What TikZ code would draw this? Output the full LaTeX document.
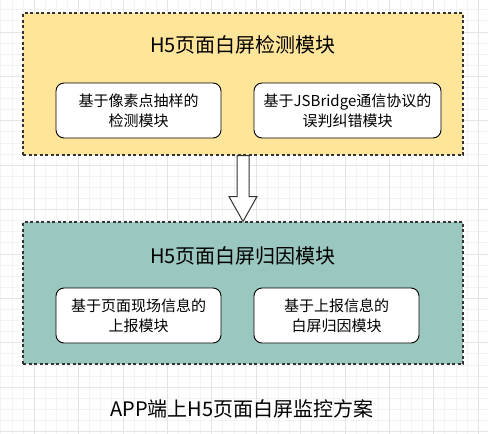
\documentclass[tikz,border=0pt]{standalone}
\usepackage{fontspec}
\setmainfont{Noto Sans CJK SC}
\usetikzlibrary{calc}
\definecolor{yfill}{RGB}{255,229,153}
\definecolor{tfill}{RGB}{154,199,191}
\definecolor{gridmaj}{RGB}{228,228,228}
\definecolor{gridmin}{RGB}{243,243,243}
\definecolor{edge}{RGB}{51,51,51}
\tikzset{
  outerbox/.style={draw=edge, line width=1.1pt, dash pattern=on 3pt off 2.5pt, minimum width=440pt, minimum height=142pt, inner sep=0pt},
  innerbox/.style={draw=black, line width=0.9pt, fill=white, rounded corners=8pt, minimum height=55pt, align=center, inner sep=0pt, font=\fontsize{15}{20}\selectfont},
  titletext/.style={font=\fontsize{20}{24}\selectfont, inner sep=0pt},
  blockarrow/.style={draw=edge, line width=1pt, fill=white, line join=miter}
}
\begin{document}
\begin{tikzpicture}[x=1pt,y=-1pt]
\useasboundingbox (0,0) rectangle (488,434);
\fill[white] (0,0) rectangle (488,434);
% grid
\foreach \i in {0,...,44} {
  \draw[gridmin, line width=0.5pt] ({0.7+\i*11.1},0) -- ({0.7+\i*11.1},434);
  \draw[gridmin, line width=0.5pt] (0,{9.6+\i*11.1}) -- (488,{9.6+\i*11.1});
}
\foreach \i in {0,...,11} {
  \draw[gridmaj, line width=0.6pt] ({-10.4+\i*44.4},0) -- ({-10.4+\i*44.4},434);
  \draw[gridmaj, line width=0.6pt] (0,{-12.6+\i*44.4}) -- (488,{-12.6+\i*44.4});
}
% top module
\node[outerbox, fill=yfill] (top) at (243,84) {};
\node[titletext] (toptitle) at (243,45) {H5页面白屏检测模块};
\node[innerbox, minimum width=165pt] (pix) at (138.5,110.5) {基于像素点抽样的\\检测模块};
\node[innerbox, minimum width=187pt] (jsb) at (347.5,110.5) {基于JSBridge通信协议的\\误判纠错模块};
% bottom module
\node[outerbox, fill=tfill] (bot) at (243,293) {};
\node[titletext] (bottitle) at (243,256) {H5页面白屏归因模块};
\node[innerbox, minimum width=165pt] (rep) at (138.5,315.5) {基于页面现场信息的\\上报模块};
\node[innerbox, minimum width=165pt] (attr) at (336.5,315.5) {基于上报信息的\\白屏归因模块};
% block arrow
\draw[blockarrow] ($(top.south)+(-6,0)$) -- ($(top.south)+(6,0)$) -- ($(top.south)+(6,41)$) -- ($(top.south)+(14,41)$) -- (bot.north) -- ($(top.south)+(-14,41)$) -- ($(top.south)+(-6,41)$) -- cycle;
% caption
\node[font=\fontsize{20}{24}\selectfont, inner sep=0pt] (caption) at (242,409) {APP端上H5页面白屏监控方案};
\end{tikzpicture}
\end{document}
